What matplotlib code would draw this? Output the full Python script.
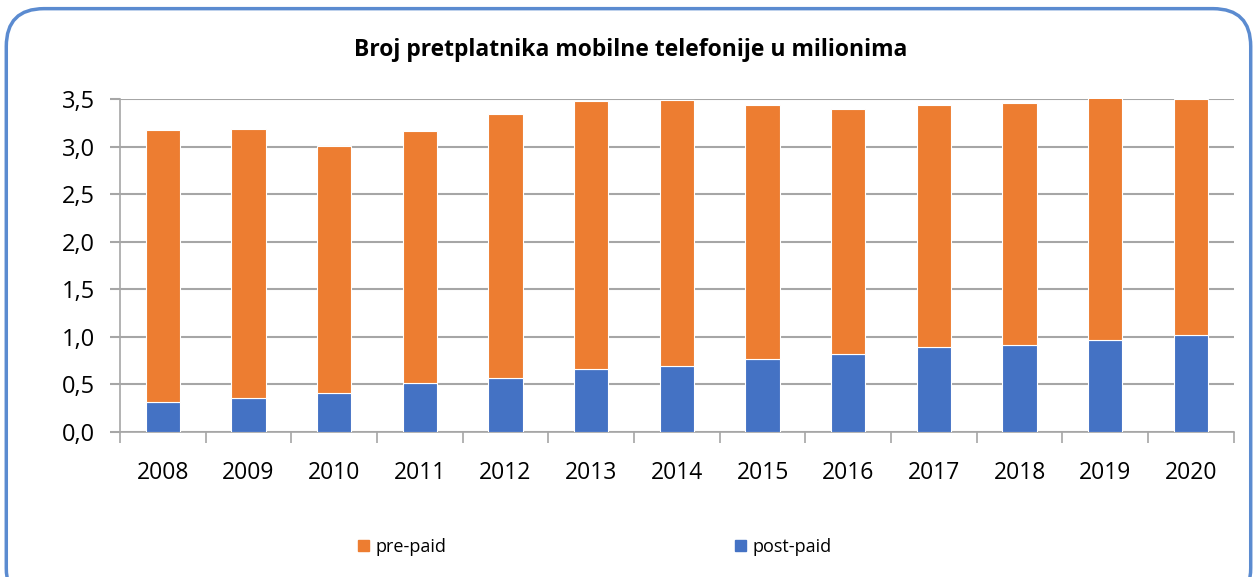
import matplotlib.pyplot as plt
import numpy as np
from matplotlib.patches import FancyBboxPatch, Patch

plt.rcParams['font.family'] = ['Open Sans', 'DejaVu Sans']

years = ['2008', '2009', '2010', '2011', '2012', '2013', '2014',
         '2015', '2016', '2017', '2018', '2019', '2020']
post_paid = [0.32, 0.36, 0.415, 0.51, 0.565, 0.665, 0.695,
             0.765, 0.815, 0.895, 0.915, 0.965, 1.02]
pre_paid = [2.85, 2.82, 2.59, 2.655, 2.78, 2.815, 2.79,
            2.675, 2.58, 2.54, 2.54, 2.555, 2.48]
yticks = [0.0, 0.5, 1.0, 1.5, 2.0, 2.5, 3.0, 3.5]

blue = '#4472C4'
orange = '#ED7D31'
grid_c = '#A6A6A6'

fig = plt.figure(figsize=(12.57, 5.77), dpi=100)
ax = fig.add_axes([0.0955, 0.2513, 0.886, 0.5771])

x = np.arange(len(years))
ax.bar(x, post_paid, width=0.4, color=blue, edgecolor='white', linewidth=0.8, zorder=3)
ax.bar(x, pre_paid, width=0.4, bottom=post_paid, color=orange, edgecolor='white',
       linewidth=0.8, zorder=3)

ax.set_xlim(-0.5, len(years) - 0.5)
ax.set_ylim(0, 3.5)
ax.set_yticks(yticks)
ax.set_yticklabels([f'{v:.1f}'.replace('.', ',') for v in yticks], fontsize=17)
ax.yaxis.grid(True, color=grid_c, linewidth=1.5, zorder=0)
ax.set_axisbelow(True)

# category labels in centre, ticks on the boundaries
ax.set_xticks(x)
ax.set_xticklabels(years, fontsize=16.5)
ax.tick_params(axis='x', length=0, pad=21)
ax.set_xticks(np.arange(-0.5, len(years)), minor=True)
ax.tick_params(axis='x', which='minor', length=8, color=grid_c, width=1.2, direction='out')
ax.tick_params(axis='y', length=7, color=grid_c, width=1.5, pad=11)

for s in ['top', 'right']:
    ax.spines[s].set_visible(False)
for s in ['left', 'bottom']:
    ax.spines[s].set_color(grid_c)
    ax.spines[s].set_linewidth(1.2)

fig.text(0.502, 0.913, 'Broj pretplatnika mobilne telefonije u milionima',
         ha='center', va='center', fontsize=16.5, fontweight='bold')

handles = [Patch(color=orange, label='pre-paid'), Patch(color=blue, label='post-paid')]
fig.legend(handles=handles, loc='center', bbox_to_anchor=(0.473, 0.052), ncol=2,
           frameon=False, fontsize=13, handlelength=0.6, handleheight=0.6,
           handletextpad=0.35, columnspacing=16)

border = FancyBboxPatch((0.005, -0.05), 0.99, 1.035, transform=fig.transFigure,
                        boxstyle='round,pad=0,rounding_size=0.03',
                        facecolor='none', edgecolor='#5B8BD0', linewidth=2.5,
                        mutation_aspect=2.18)
fig.patches.append(border)

fig.savefig('out.png', dpi=100)
